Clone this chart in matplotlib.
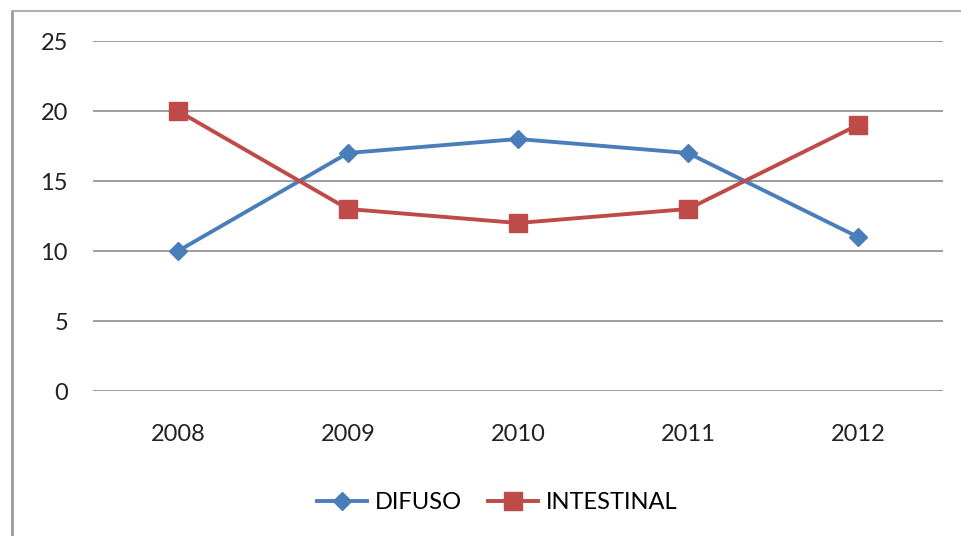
import matplotlib.pyplot as plt
from matplotlib.lines import Line2D

years = ['2008', '2009', '2010', '2011', '2012']
difuso = [10, 17, 18, 17, 11]
intestinal = [20, 13, 12, 13, 19]

plt.rcParams['font.family'] = ['Lato', 'DejaVu Sans']

fig = plt.figure(figsize=(9.61, 5.36), dpi=100)
ax = fig.add_axes([93/961, 1 - 391/536, 850/961, 350/536])

x = range(len(years))
ax.plot(x, difuso, color='#4A7EBB', lw=2.8, marker='D', ms=9.5, label='DIFUSO', zorder=3)
ax.plot(x, intestinal, color='#BE4B48', lw=2.8, marker='s', ms=13.5, label='INTESTINAL', zorder=3)

ax.set_xlim(-0.5, 4.5)
ax.set_ylim(0, 25)
ax.set_yticks([0, 5, 10, 15, 20, 25])
ax.set_xticks(list(x))
ax.set_xticklabels(years)
ax.yaxis.grid(True, color='#8c8c8c', lw=1.2)
ax.set_axisbelow(True)
for s in ax.spines.values():
    s.set_visible(False)
ax.tick_params(length=0, labelsize=17, colors='#222222')
ax.tick_params(axis='y', pad=18)
ax.tick_params(axis='x', pad=24)

ax.legend(loc='center', bbox_to_anchor=(0.476, -0.318), ncol=2, frameon=False,
          fontsize=17, handlelength=2.1, columnspacing=1.1, handletextpad=0.35)

# chart frame, only left and top edges fall inside the image
fig.add_artist(Line2D([12/961, 12/961], [0, 1 - 11/536], color='#9a9a9a', lw=2))
fig.add_artist(Line2D([12/961, 1], [1 - 11/536, 1 - 11/536], color='#b0b0b0', lw=1.5))

fig.savefig('out.png', dpi=100)
